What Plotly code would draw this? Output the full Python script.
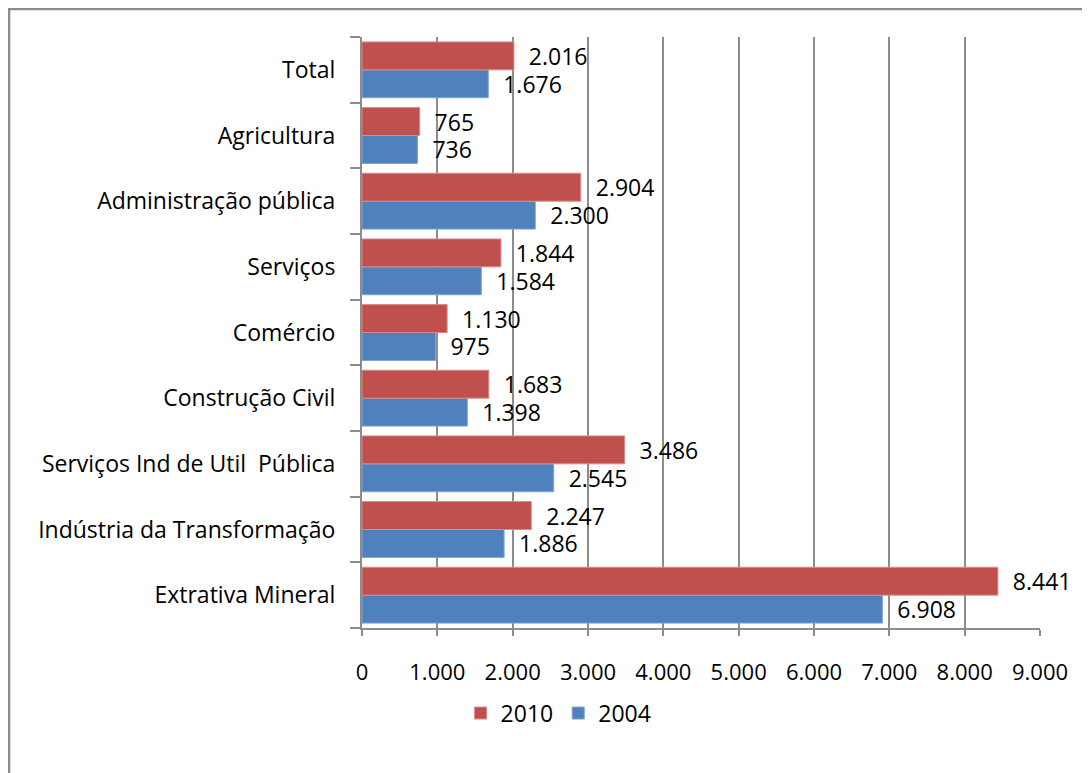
import plotly.graph_objects as go

# categories listed bottom -> top (plotly puts the first category at the bottom)
setores = [
    "Extrativa Mineral",
    "Indústria da Transformação",
    "Serviços Ind de Util  Pública",
    "Construção Civil",
    "Comércio",
    "Serviços",
    "Administração pública",
    "Agricultura",
    "Total",
]
valores_2004 = [6908, 1886, 2545, 1398, 975, 1584, 2300, 736, 1676]
valores_2010 = [8441, 2247, 3486, 1683, 1130, 1844, 2904, 765, 2016]

x_ticks = [0, 1000, 2000, 3000, 4000, 5000, 6000, 7000, 8000, 9000]

RED = "#c0504d"
BLUE = "#4f81bd"
GRID = "#8c8c8c"
FONT = "Open Sans, Lato, sans-serif"

fig = go.Figure()

# 2004 first so it sits below 2010 inside each group
fig.add_trace(go.Bar(
    y=setores, x=valores_2004, name="2004", orientation="h",
    marker=dict(color=BLUE, line=dict(color="#7fa3d0", width=1)),
    texttemplate="\u00a0\u00a0%{x:,.0f}", textposition="outside",
    textfont=dict(color="black", size=23),
    cliponaxis=False, constraintext="none",
))
fig.add_trace(go.Bar(
    y=setores, x=valores_2010, name="2010", orientation="h",
    marker=dict(color=RED, line=dict(color="#d98a88", width=1)),
    texttemplate="\u00a0\u00a0%{x:,.0f}", textposition="outside",
    textfont=dict(color="black", size=23),
    cliponaxis=False, constraintext="none",
))

# outer chart border (cut by the window on the right and bottom)
fig.add_shape(type="rect", xref="paper", yref="paper",
              x0=-0.5206, x1=1.2, y0=-0.35, y1=1.0474,
              line=dict(color=GRID, width=2.5), layer="below")

fig.update_layout(
    width=1090, height=773,
    barmode="group", bargap=0.15, bargroupgap=0,
    separators=",.",
    paper_bgcolor="white", plot_bgcolor="white",
    font=dict(family=FONT, size=23, color="black"),
    margin=dict(l=354, r=58, t=29, b=153),
    showlegend=True,
    legend=dict(orientation="h", traceorder="reversed",
                x=0.29, xanchor="center", y=-0.144, yanchor="middle",
                font=dict(size=23), itemwidth=30),
    xaxis=dict(range=[0, 9000], tickvals=x_ticks, tickformat=",.0f",
               tickfont=dict(size=22),
               showgrid=True, gridcolor=GRID, gridwidth=2,
               showline=True, linecolor=GRID, linewidth=2,
               ticks="outside", ticklen=6, tickcolor=GRID, tickwidth=2,
               ticklabelstandoff=18, zeroline=False),
    yaxis=dict(showgrid=False, showline=True, linecolor=GRID, linewidth=2,
               ticks="outside", tickson="boundaries", ticklen=10,
               tickcolor=GRID, tickwidth=2, ticklabelstandoff=20),
)

fig.write_html("out.html")
